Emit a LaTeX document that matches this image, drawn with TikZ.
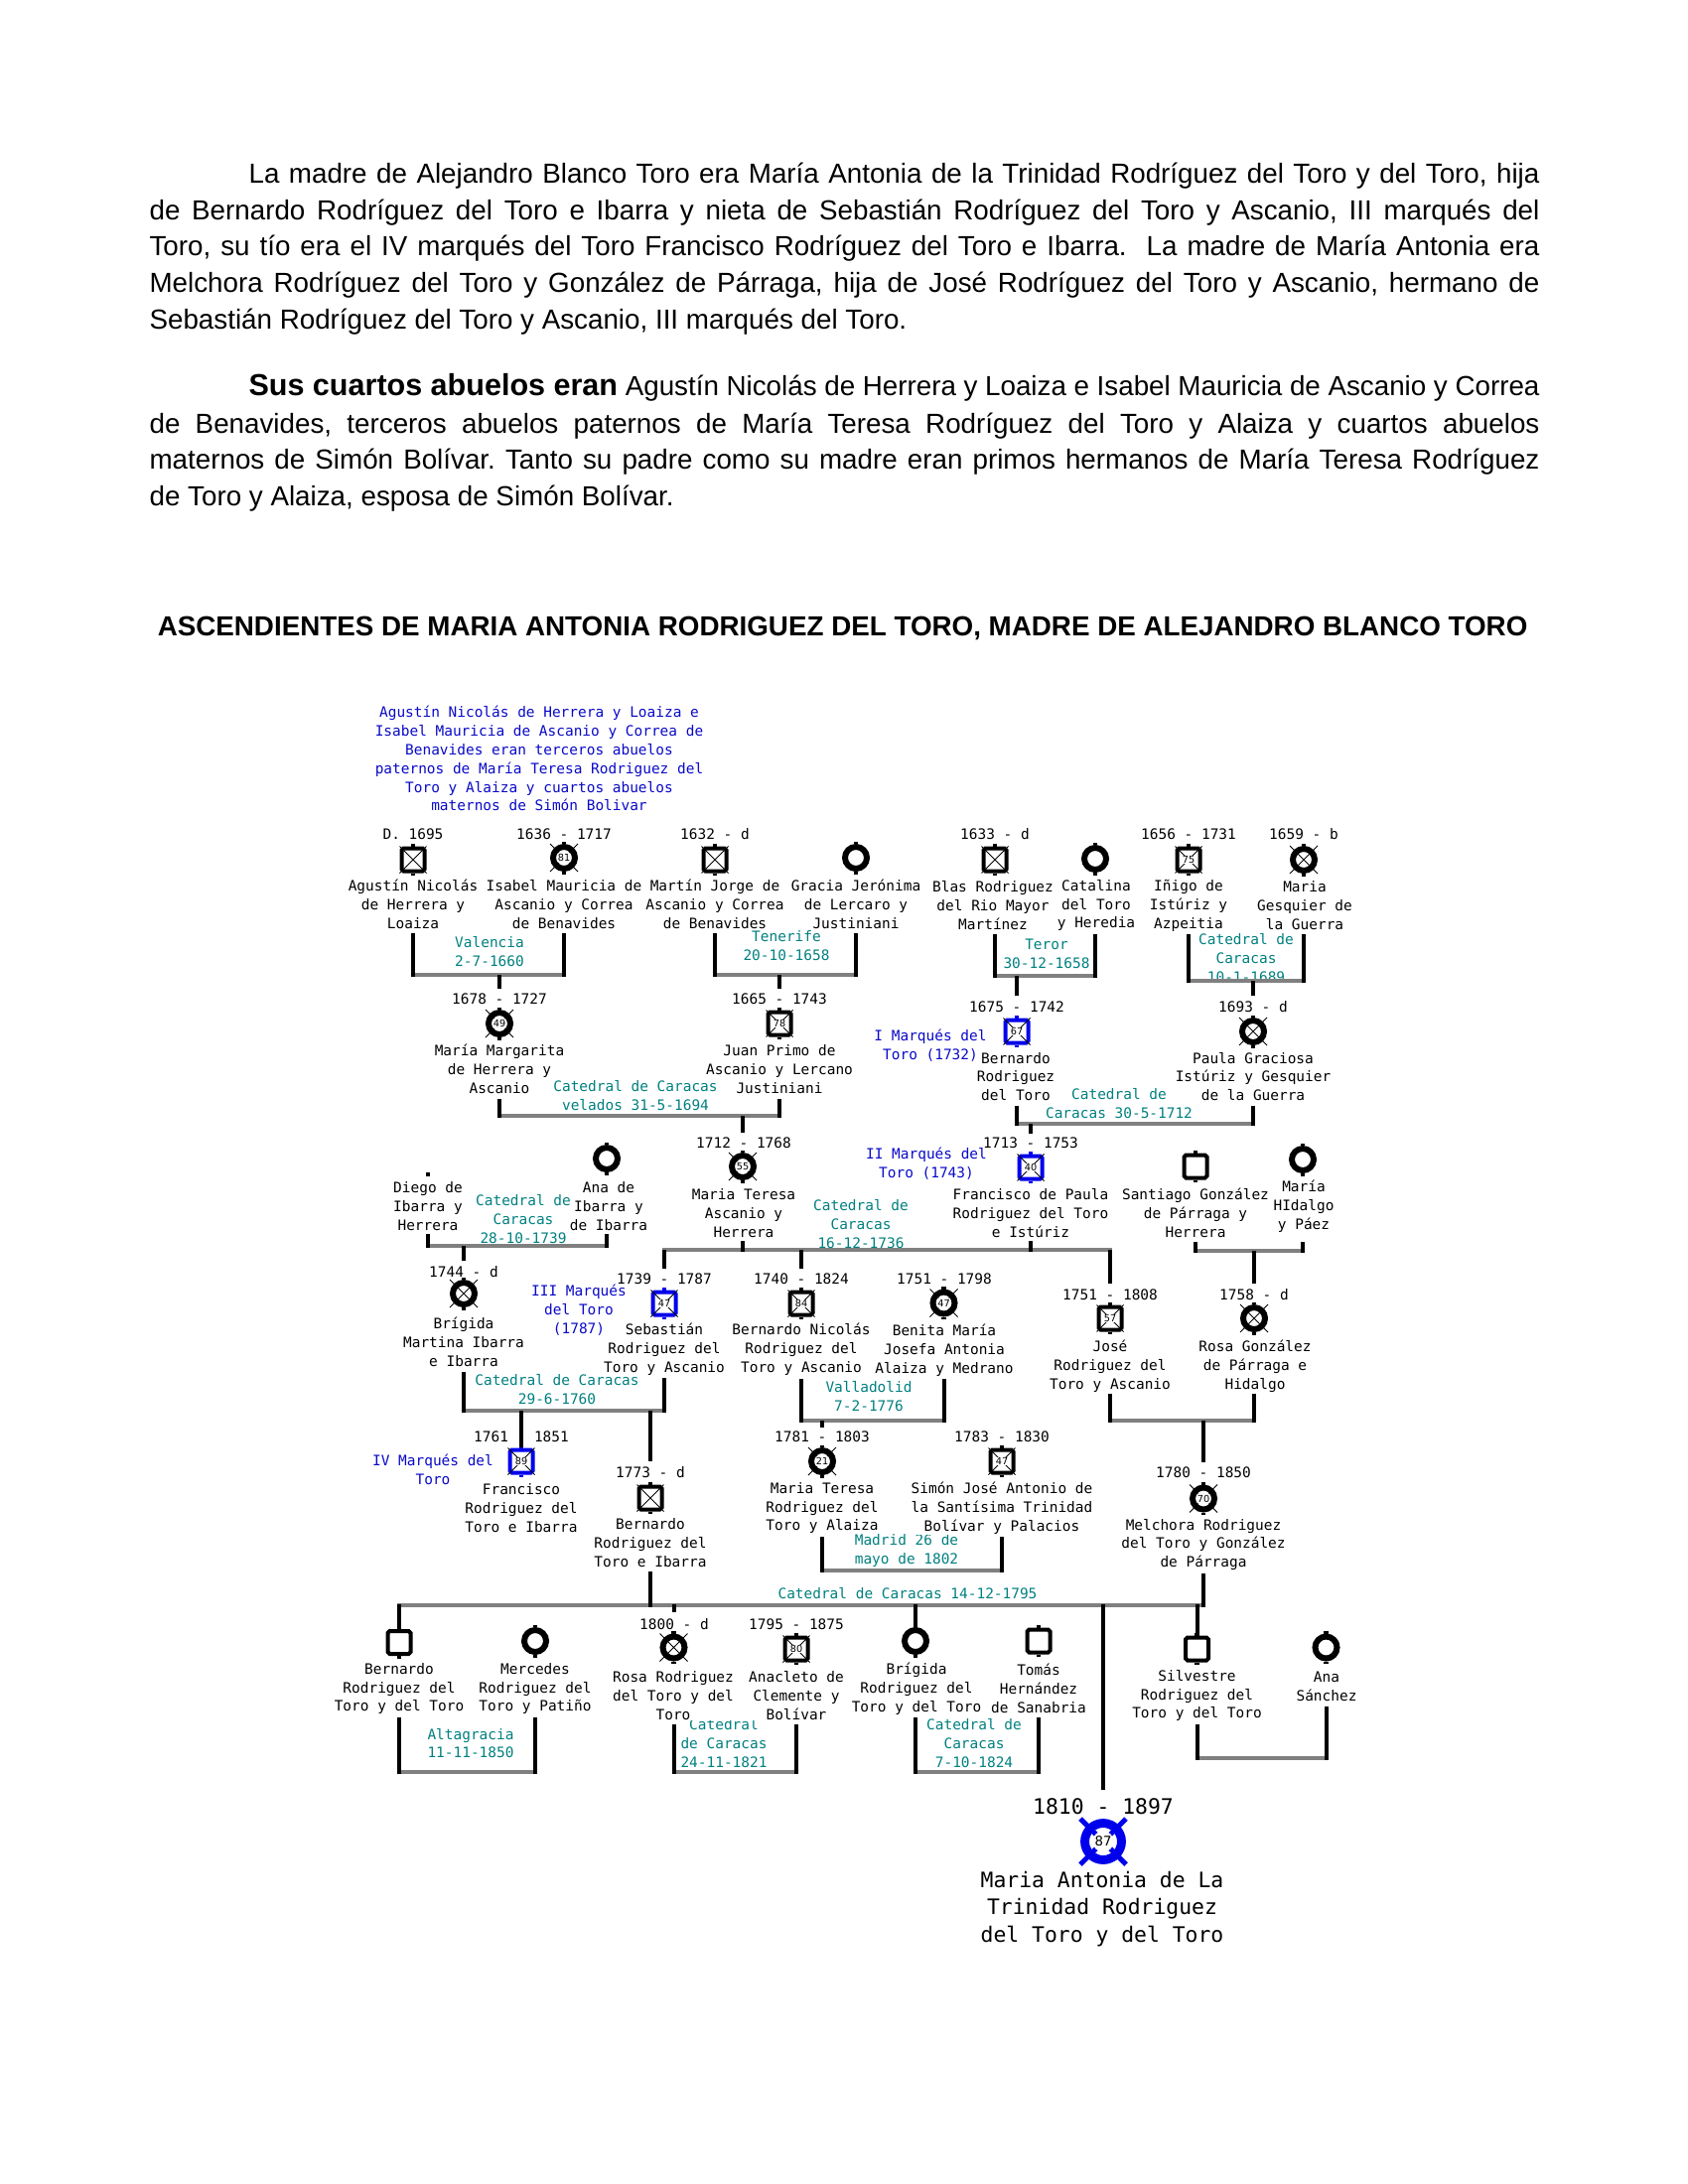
\documentclass[tikz,border=0pt]{standalone}
\usepackage{fontspec}
\setmainfont{Liberation Sans}
\newfontfamily\monof{DejaVu Sans Mono}
\newfontfamily\agefam{DejaVu Sans}
\usetikzlibrary{calc}
\definecolor{bluet}{RGB}{10,10,200}
\definecolor{blues}{RGB}{0,0,235}
\definecolor{tealc}{RGB}{0,128,128}
\definecolor{grayb}{RGB}{128,128,128}
\tikzset{
 lbl/.style={font=\monof\fontsize{5.2}{6.8}\selectfont, align=center, inner sep=0pt},
 nm/.style={lbl, fill=white},
 mt/.style={lbl, text=tealc},
 bt/.style={lbl, text=bluet},
 big/.style={font=\monof\fontsize{7.7}{9.85}\selectfont, align=center, inner sep=0pt},
 sqsym/.style={rectangle, draw, line width=1.44pt, minimum size=8.28pt, inner sep=0pt, rounded corners=0.7pt, fill=white},
 cisym/.style={circle, draw, line width=2.16pt, minimum size=7.92pt, inner sep=0pt, fill=white},
 dotsym/.style={rectangle, fill=black, minimum size=1.5pt, inner sep=0pt},
 bigci/.style={circle, draw=blues, line width=3.2pt, minimum size=13.3pt, inner sep=0pt, fill=white},
 vbar/.style={line width=1.44pt, draw=black},
 hbar/.style={line width=1.44pt, draw=grayb},
 stub/.style={line width=1.6pt},
 xl/.style={line width=0.35pt},
 ages/.style={font=\agefam\fontsize{3.5}{4}\selectfont, fill=white, inner sep=0.25pt},
 agec/.style={font=\agefam\fontsize{3.5}{4}\selectfont, fill=white, circle, inner sep=0pt, minimum size=5pt},
 para/.style={inner sep=0pt, anchor=base west, font=\fontsize{10}{12}\selectfont},
}
\newcommand{\PSq}[4]{\node[sqsym,draw=#4] (#1) at (#2,#3) {};\draw[stub,#4] (#1.north) -- ++(0,-2.5);\draw[stub,#4] (#1.south) -- ++(0,2.5);}
\newcommand{\PCi}[4]{\node[cisym,draw=#4] (#1) at (#2,#3) {};\draw[stub,#4] (#1.north) -- ++(0,-2.5);\draw[stub,#4] (#1.south) -- ++(0,2.5);}
\newcommand{\XSq}[1]{\draw[xl] (#1.north west) -- (#1.south east) (#1.north east) -- (#1.south west);}
\newcommand{\XCi}[1]{\draw[xl] (#1) ++(-14,-14) -- ++(28,28) (#1) ++(14,-14) -- ++(-28,28);}
\newcommand{\AgeS}[2]{\node[ages] at (#1) {#2};}
\newcommand{\AgeC}[2]{\node[agec] at (#1) {#2};}
\newcommand{\Marr}[5]{\draw[hbar] ($(#1 |- 0,#5)+(-2,0)$) -- ($(#2 |- 0,#5)+(2,0)$);\draw[vbar] (#1 |- 0,#3) -- ($(#1 |- 0,#5)+(0,2)$);\draw[vbar] (#2 |- 0,#4) -- ($(#2 |- 0,#5)+(0,2)$);}
\newcommand{\Drop}[3]{\draw[vbar] (#1 |- 0,#2) -- (#1 |- 0,#3);}
\frenchspacing
\begin{document}
\begin{tikzpicture}[x=0.36pt,y=-0.36pt]
\useasboundingbox[fill=white] (0,0) rectangle (1700,2200);

% ---------- paragraphs ----------
\node[para] (p1a) at (250,185) {\makebox[468pt][s]{La madre de Alejandro Blanco Toro era María Antonia de la Trinidad Rodríguez del Toro y del Toro, hija}};
\node[para] (p1b) at (150,221.5) {\makebox[504pt][s]{de Bernardo Rodríguez del Toro e Ibarra y nieta de Sebastián Rodríguez del Toro y Ascanio, III marqués del}};
\node[para] (p1c) at (150,258) {\makebox[504pt][s]{Toro, su tío era el IV marqués del Toro Francisco Rodríguez del Toro e Ibarra.\ \ La madre de María Antonia era}};
\node[para] (p1d) at (150,294.5) {\makebox[504pt][s]{Melchora Rodríguez del Toro y González de Párraga, hija de José Rodríguez del Toro y Ascanio, hermano de}};
\node[para] (p1e) at (150,331) {Sebastián Rodríguez del Toro y Ascanio, III marqués del Toro.};
\node[para] (p2a) at (250,398) {\makebox[468pt][s]{{\fontsize{11}{13}\selectfont\bfseries Sus cuartos abuelos eran} Agustín Nicolás de Herrera y Loaiza e Isabel Mauricia de Ascanio y Correa}};
\node[para] (p2b) at (150,436) {\makebox[504pt][s]{de Benavides, terceros abuelos paternos de María Teresa Rodríguez del Toro y Alaiza y cuartos abuelos}};
\node[para] (p2c) at (150,472.5) {\makebox[504pt][s]{maternos de Simón Bolívar. Tanto su padre como su madre eran primos hermanos de María Teresa Rodríguez}};
\node[para] (p2d) at (150,509) {de Toro y Alaiza, esposa de Simón Bolívar.};
\node[inner sep=0pt, anchor=base, font=\bfseries\fontsize{10}{12}\selectfont] (title) at (848.6,640) {ASCENDIENTES DE MARIA ANTONIA RODRIGUEZ DEL TORO, MADRE DE ALEJANDRO BLANCO TORO};

% ---------- blue note ----------
\node[bt] (note) at (543,764) {Agustín Nicolás de Herrera y Loaiza e\\Isabel Mauricia de Ascanio y Correa de\\Benavides eran terceros abuelos\\paternos de María Teresa Rodriguez del\\Toro y Alaiza y cuartos abuelos\\maternos de Simón Bolivar};

% ---------- marriage texts (drawn first, names cover them) ----------
\node[mt] (m1) at (493,959) {Valencia\\2-7-1660};
\node[mt] (m2) at (792,953) {Tenerife\\20-10-1658};
\node[mt] (m3) at (1054,961) {Teror\\30-12-1658};
\node[mt] (m4) at (1255,965) {Catedral de\\Caracas\\10-1-1689};
\node[mt] (m6) at (1127,1111.5) {Catedral de\\Caracas 30-5-1712};
\node[mt] (m7) at (527,1228) {Catedral de\\Caracas\\28-10-1739};
\node[mt] (m8) at (867,1233) {Catedral de\\Caracas\\16-12-1736};
\node[mt] (m9) at (561,1400) {Catedral de Caracas\\29-6-1760};
\node[mt] (m10) at (875,1407) {Valladolid\\7-2-1776};
\node[mt] (m11) at (913,1562) {Madrid 26 de\\mayo de 1802};
\node[mt] (m12) at (914,1605) {Catedral de Caracas 14-12-1795};
\node[mt] (m13) at (474,1756) {Altagracia\\11-11-1850};
\node[mt] (m14) at (729,1756) {Catedral\\de Caracas\\24-11-1821};
\node[mt] (m15) at (981,1756) {Catedral de\\Caracas\\7-10-1824};

% ---------- row 1 ----------
\node[lbl] (d1) at (416,840) {D. 1695};
\node[lbl] (d2) at (568,840) {1636 - 1717};
\node[lbl] (d3) at (720,840) {1632 - d};
\node[lbl] (d4) at (1002,840) {1633 - d};
\node[lbl] (d5) at (1197,840) {1656 - 1731};
\node[lbl] (d6) at (1313,840) {1659 - b};
\PSq{agustin}{416}{866}{black}\XSq{agustin}
\PCi{isabel}{568}{864}{black}\XCi{isabel}\AgeC{isabel}{81}
\PSq{martin}{720}{866}{black}\XSq{martin}
\PCi{gracia}{862}{864}{black}
\PSq{blas}{1002}{866}{black}\XSq{blas}
\PCi{catalina}{1103}{865}{black}
\PSq{inigo}{1197}{866}{black}\XSq{inigo}\AgeS{inigo}{75}
\PCi{mgesq}{1313}{866}{black}\XCi{mgesq}
\node[nm] (agustinN) at (416,911) {Agustín Nicolás\\de Herrera y\\Loaiza};
\node[nm] (isabelN) at (568,911) {Isabel Mauricia de\\Ascanio y Correa\\de Benavides};
\node[nm] (martinN) at (720,911) {Martín Jorge de\\Ascanio y Correa\\de Benavides};
\node[nm] (graciaN) at (862,911) {Gracia Jerónima\\de Lercaro y\\Justiniani};
\node[nm] (blasN) at (1000,912) {Blas Rodriguez\\del Rio Mayor\\Martínez};
\node[nm] (catalinaN) at (1104,912) {Catalina\\del Toro\\y Heredia};
\node[nm] (inigoN) at (1197,912) {Iñigo de\\Istúriz y\\Azpeitia};
\node[nm] (mgesqN) at (1314,912) {Maria\\Gesquier de\\la Guerra};

% ---------- row 2 ----------
\node[lbl] (d7) at (503,1006) {1678 - 1727};
\node[lbl] (d8) at (785,1006) {1665 - 1743};
\node[lbl] (d9) at (1024,1014) {1675 - 1742};
\node[lbl] (d10) at (1262,1014) {1693 - d};
\PCi{mmarg}{503}{1031}{black}\XCi{mmarg}\AgeC{mmarg}{49}
\PSq{juanp}{785}{1031}{black}\XSq{juanp}\AgeS{juanp}{78}
\PSq{bernardoA}{1024}{1039}{blues}\XSq{bernardoA}\AgeS{bernardoA}{67}
\PCi{paula}{1262}{1039}{black}\XCi{paula}
\node[nm] (mmargN) at (503,1077) {María Margarita\\de Herrera y\\Ascanio};
\node[nm] (juanpN) at (785,1077) {Juan Primo de\\Ascanio y Lercano\\Justiniani};
\node[nm] (bernardoAN) at (1023,1084.5) {Bernardo\\Rodriguez\\del Toro};
\node[nm] (paulaN) at (1262,1084.5) {Paula Graciosa\\Istúriz y Gesquier\\de la Guerra};
\node[bt] (t1) at (937,1053) {I Marqués del\\Toro (1732)};
\node[mt] (m5) at (640,1104) {Catedral de Caracas\\velados 31-5-1694};

% ---------- row 3 ----------
\node[lbl] (d11) at (749,1151) {1712 - 1768};
\node[lbl] (d12) at (1038,1151) {1713 - 1753};
\node[dotsym] (diego) at (431,1183) {};
\PCi{ana}{611}{1167}{black}
\PCi{mteresaA}{748}{1175}{black}\XCi{mteresaA}\AgeC{mteresaA}{55}
\PSq{franciscoP}{1038}{1176}{blues}\XSq{franciscoP}\AgeS{franciscoP}{40}
\PSq{santiago}{1204}{1175}{black}
\PCi{mhidalgo}{1312}{1168}{black}
\node[nm] (diegoN) at (431,1215) {Diego de\\Ibarra y\\Herrera};
\node[nm] (anaN) at (613,1215) {Ana de\\Ibarra y\\de Ibarra};
\node[nm] (mteresaAN) at (749,1222) {Maria Teresa\\Ascanio y\\Herrera};
\node[nm] (franciscoPN) at (1038,1222) {Francisco de Paula\\Rodriguez del Toro\\e Istúriz};
\node[nm] (santiagoN) at (1204,1222) {Santiago González\\de Párraga y\\Herrera};
\node[nm] (mhidalgoN) at (1313,1215) {María\\HIdalgo\\y Páez};
\node[bt] (t2) at (933,1172) {II Marqués del\\Toro (1743)};

% ---------- row 4 ----------
\node[lbl] (d13) at (467,1281) {1744 - d};
\node[lbl] (d14) at (669,1288) {1739 - 1787};
\node[lbl] (d15) at (807,1288) {1740 - 1824};
\node[lbl] (d16) at (951,1288.5) {1751 - 1798};
\node[lbl] (d17) at (1118,1304) {1751 - 1808};
\node[lbl] (d18) at (1263,1304) {1758 - d};
\PCi{brigidaM}{467}{1303}{black}\XCi{brigidaM}
\PSq{sebastian}{669}{1313}{blues}\XSq{sebastian}\AgeS{sebastian}{47}
\PSq{bernardoN}{807}{1313}{black}\XSq{bernardoN}\AgeS{bernardoN}{84}
\PCi{benita}{950.5}{1312.5}{black}\XCi{benita}\AgeC{benita}{47}
\PSq{jose}{1118}{1328}{black}\XSq{jose}\AgeS{jose}{57}
\PCi{rosaG}{1263}{1328}{black}\XCi{rosaG}
\node[nm] (brigidaMN) at (467,1352) {Brígida\\Martina Ibarra\\e Ibarra};
\node[nm] (sebastianN) at (669,1359) {Sebastián\\Rodriguez del\\Toro y Ascanio};
\node[nm] (bernardoNN) at (807,1359) {Bernardo Nicolás\\Rodriguez del\\Toro y Ascanio};
\node[nm] (benitaN) at (951,1360) {Benita María\\Josefa Antonia\\Alaiza y Medrano};
\node[nm] (joseN) at (1118,1376) {José\\Rodriguez del\\Toro y Ascanio};
\node[nm] (rosaGN) at (1264,1376) {Rosa González\\de Párraga e\\Hidalgo};
\node[bt] (t3) at (583,1320) {III Marqués\\del Toro\\(1787)};

% ---------- row 5 ----------
\node[lbl] (d19) at (525,1447) {1761 - 1851};
\node[lbl] (d20) at (655,1483) {1773 - d};
\node[lbl] (d21) at (828,1447) {1781 - 1803};
\node[lbl] (d22) at (1009,1447) {1783 - 1830};
\node[lbl] (d23) at (1212,1483.5) {1780 - 1850};
\PSq{franciscoIV}{525}{1472}{blues}\XSq{franciscoIV}\AgeS{franciscoIV}{89}
\PSq{bernardoB}{655}{1509}{black}\XSq{bernardoB}
\PCi{mteresaR}{828}{1472}{black}\XCi{mteresaR}\AgeC{mteresaR}{21}
\PSq{simon}{1009}{1472}{black}\XSq{simon}\AgeS{simon}{47}
\PCi{melchora}{1212}{1509.5}{black}\XCi{melchora}\AgeC{melchora}{70}
\node[nm] (franciscoIVN) at (525,1519) {Francisco\\Rodriguez del\\Toro e Ibarra};
\node[nm] (bernardoBN) at (655,1554) {Bernardo\\Rodriguez del\\Toro e Ibarra};
\node[nm] (mteresaRN) at (828,1519) {Maria Teresa\\Rodriguez del\\Toro y Alaiza};
\node[nm] (simonN) at (1009,1519.5) {Simón José Antonio de\\la Santísima Trinidad\\Bolívar y Palacios};
\node[nm] (melchoraN) at (1212,1556) {Melchora Rodriguez\\del Toro y González\\de Párraga};
\node[bt] (t4) at (436,1480) {IV Marqués del\\Toro};

% ---------- row 6 ----------
\node[lbl] (d24) at (679,1636) {1800 - d};
\node[lbl] (d25) at (802,1636) {1795 - 1875};
\PSq{bernardoC}{402}{1654.5}{black}
\PCi{mercedes}{539}{1653}{black}
\PCi{rosaR}{678.5}{1659.5}{black}\XCi{rosaR}
\PSq{anacleto}{802}{1661}{black}\XSq{anacleto}\AgeS{anacleto}{80}
\PCi{brigidaR}{922}{1653}{black}
\PSq{tomas}{1046}{1653}{black}
\PSq{silvestre}{1205.5}{1661}{black}
\PCi{anaS}{1335.5}{1659.5}{black}
\node[nm] (bernardoCN) at (402,1701) {Bernardo\\Rodriguez del\\Toro y del Toro};
\node[nm] (mercedesN) at (539,1701) {Mercedes\\Rodriguez del\\Toro y Patiño};
\node[nm] (rosaRN) at (678,1708) {Rosa Rodriguez\\del Toro y del\\Toro};
\node[nm] (anacletoN) at (802,1708) {Anacleto de\\Clemente y\\Bolívar};
\node[nm] (brigidaRN) at (923,1701) {Brígida\\Rodriguez del\\Toro y del Toro};
\node[nm] (tomasN) at (1046,1701) {Tomás\\Hernández\\de Sanabria};
\node[nm] (silvestreN) at (1205.5,1708) {Silvestre\\Rodriguez del\\Toro y del Toro};
\node[nm] (anaSN) at (1336,1699) {Ana\\Sánchez};

% ---------- final person ----------
\node[big] (d26) at (1111,1820) {1810 - 1897};
\node[bigci] (mantonia) at (1111,1855) {};
\draw[line width=1.8pt, blues] (mantonia) ++(-23,-23) -- ++(46,46) (mantonia) ++(23,-23) -- ++(-46,46);
\node[circle, fill=white, inner sep=0pt, minimum size=7.6pt, font=\agefam\fontsize{4.8}{5}\selectfont] at (mantonia) {87};
\node[big] (mantoniaN) at (1110,1923) {Maria Antonia de La\\Trinidad Rodriguez\\del Toro y del Toro};

% ---------- marriages and descent ----------
\Marr{agustin}{isabel}{940}{940}{982}
\Marr{martin}{gracia}{940}{940}{982}
\Marr{blas}{catalina}{941}{941}{983}
\Marr{inigo}{mgesq}{941}{941}{988}
\Drop{mmarg}{982}{996}
\Drop{juanp}{982}{996}
\Drop{bernardoA}{983}{1003}
\Drop{paula}{988}{1003}

\Marr{mmarg}{juanp}{1107}{1107}{1124}
\Marr{bernardoA}{paula}{1114}{1114}{1132}
\Drop{mteresaA}{1124}{1141}
\Drop{franciscoP}{1132}{1142}

\Marr{diego}{ana}{1243}{1243}{1255}
\draw[hbar] ($(sebastian |- 0,1259)+(-2,0)$) -- ($(jose |- 0,1259)+(2,0)$);
\draw[vbar] (mteresaA |- 0,1250) -- (mteresaA |- 0,1261);
\draw[vbar] (franciscoP |- 0,1250) -- (franciscoP |- 0,1261);
\Marr{santiago}{mhidalgo}{1251}{1251}{1260}
\Drop{brigidaM}{1255}{1270}
\Drop{sebastian}{1259}{1278}
\Drop{bernardoN}{1259}{1278}
\Drop{jose}{1259}{1293}
\Drop{rosaG}{1260}{1293}

\Marr{brigidaM}{sebastian}{1382}{1388}{1421}
\Marr{bernardoN}{benita}{1389}{1389}{1431}
\Marr{jose}{rosaG}{1404}{1404}{1431}
\Drop{franciscoIV}{1421}{1458}
\Drop{bernardoB}{1421}{1472}
\Drop{mteresaR}{1431}{1438}
\Drop{melchora}{1431}{1473}

\Marr{mteresaR}{simon}{1548}{1548}{1582}
\draw[hbar] ($(bernardoC |- 0,1616.5)+(-2,0)$) -- ($(melchora |- 0,1616.5)+(2,0)$);
\draw[vbar] (bernardoB |- 0,1583) -- (bernardoB |- 0,1618.5);
\draw[vbar] (melchora |- 0,1585) -- (melchora |- 0,1618.5);
\Drop{bernardoC}{1616}{1641}
\Drop{rosaR}{1616}{1624}
\Drop{brigidaR}{1616}{1641}
\Drop{silvestre}{1616}{1648}
\Drop{mantonia}{1616}{1803}

\Marr{bernardoC}{mercedes}{1730}{1730}{1785}
\Marr{rosaR}{anacleto}{1737}{1737}{1785}
\Marr{brigidaR}{tomas}{1730}{1730}{1785}
\Marr{silvestre}{anaS}{1737}{1719}{1771}
\end{tikzpicture}
\end{document}
